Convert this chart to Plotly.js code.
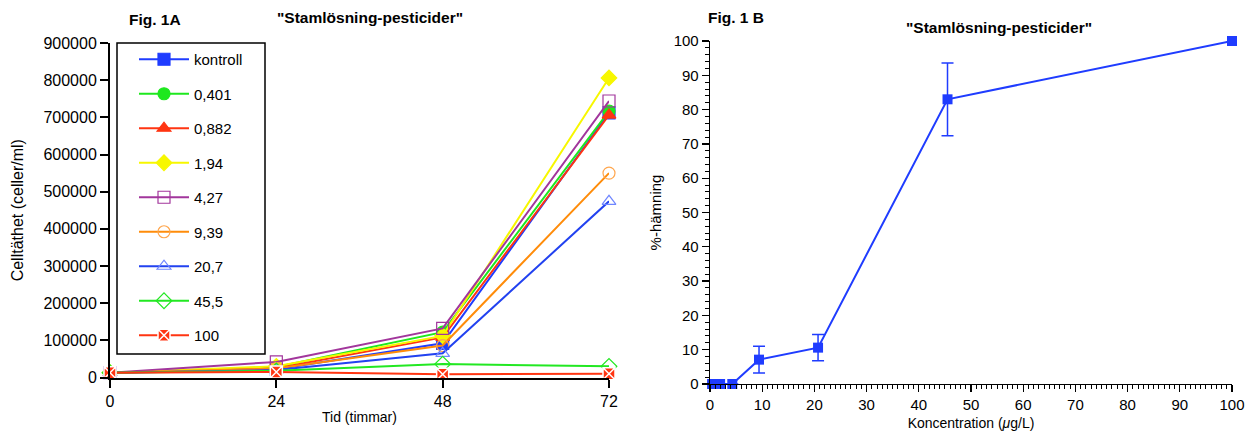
<!DOCTYPE html>
<html>
<head>
<meta charset="utf-8">
<script src="https://cdn.plot.ly/plotly-3.0.1.min.js"></script>
<style>html,body{margin:0;padding:0;background:#fff}#chart{width:1254px;height:435px}</style>
</head>
<body>
<div id="chart"></div>
<script>
// ---- Fig. 1A data ----
const timePoints = [0, 24, 48, 72];
const seriesNames = ["kontroll", "0,401", "0,882", "1,94", "4,27", "9,39", "20,7", "45,5", "100"];
const kontroll = [13000, 22000, 92000, 712000];
const c0401   = [13000, 28000, 122000, 717000];
const c0882   = [13000, 25000, 108000, 706000];
const c194    = [13000, 30000, 112000, 806000];
const c427    = [13000, 42000, 132000, 744000];
const c939    = [13000, 24000, 86000, 550000];
const c207    = [13000, 20000, 65000, 474000];
const c455    = [13000, 18000, 36000, 30000];
const c100    = [13000, 15000, 9000, 10000];

// ---- Fig. 1B data ----
const concentration = [0.401, 0.882, 1.94, 4.27, 9.39, 20.7, 45.5, 100];
const inhibition    = [0, 0, 0, 0, 7.1, 10.6, 83.0, 100];
const inhibitionErr = [0, 0, 0, 0, 3.9, 3.8, 10.6, 0.4];

const seriesValues = [kontroll, c0401, c0882, c194, c427, c939, c207, c455, c100];
const styles = [
  {line:'#1f3cff', mc:'#1f3cff', ml:'#1f3cff', sym:'square'},
  {line:'#1ee81e', mc:'#1ee81e', ml:'#1ee81e', sym:'circle'},
  {line:'#ff3512', mc:'#ff3512', ml:'#ff3512', sym:'triangle-up'},
  {line:'#f7f700', mc:'#f7f700', ml:'#f7f700', sym:'diamond'},
  {line:'#a2369c', mc:'#a2369c', ml:'#a2369c', sym:'square-open'},
  {line:'#ff8c0a', mc:'#ffa64d', ml:'#ffa64d', sym:'circle-open'},
  {line:'#2242f0', mc:'#6f86ff', ml:'#6f86ff', sym:'triangle-up-open'},
  {line:'#22e822', mc:'#22e822', ml:'#22e822', sym:'diamond-open'},
  {line:'#ff3512', mc:'#ff3512', ml:'#ffffff', sym:'square-x'}
];

const traces = seriesNames.map((name, i) => {
  const s = styles[i];
  return {
    type: 'scatter', mode: 'lines+markers', name: name,
    x: timePoints, y: seriesValues[i], xaxis: 'x', yaxis: 'y',
    legendgroup: 'g' + i, cliponaxis: false,
    line: {color: s.line, width: 2},
    marker: {symbol: s.sym, size: 12, color: s.mc,
             line: {color: s.ml, width: s.sym === 'square-x' ? 1.5 : 1.2}}
  };
});

traces.push({
  type: 'scatter', mode: 'lines+markers', name: 'B',
  x: concentration, y: inhibition, xaxis: 'x2', yaxis: 'y2',
  showlegend: false, cliponaxis: false,
  line: {color: '#1f3cff', width: 2},
  marker: {symbol: 'square', size: 10, color: '#1f3cff'},
  error_y: {type: 'data', array: inhibitionErr, visible: true, color: '#1f3cff', thickness: 1.5, width: 6}
});

const W = 1254, H = 435;
const fx = p => p / W, fy = p => (H - p) / H;
const font = 'Liberation Sans, Arial, sans-serif';

const layout = {
  width: W, height: H,
  margin: {l: 0, r: 0, t: 0, b: 0},
  paper_bgcolor: '#fff', plot_bgcolor: '#fff',
  font: {family: font, size: 15, color: '#000'},
  showlegend: true,
  legend: {
    x: fx(134), y: fy(43), xanchor: 'left', yanchor: 'top',
    bgcolor: 'rgba(0,0,0,0)', borderwidth: 0,
    font: {family: font, size: 15, color: '#000'},
    tracegroupgap: 12, itemwidth: 50, traceorder: 'grouped'
  },
  xaxis: {
    domain: [fx(110), fx(609)], range: [0, 72],
    tickvals: timePoints, ticktext: timePoints.map(String),
    ticks: 'outside', ticklen: 8, tickwidth: 2, tickcolor: '#000',
    showline: true, linewidth: 2, linecolor: '#000',
    showgrid: false, zeroline: false, anchor: 'y',
    tickfont: {size: 16},
    title: {text: 'Tid (timmar)', font: {size: 14}, standoff: 3}
  },
  yaxis: {
    domain: [fy(377.5), fy(43)], range: [0, 900000],
    dtick: 100000, tickformat: 'd',
    ticks: 'outside', ticklen: 8, tickwidth: 2, tickcolor: '#000',
    showline: true, linewidth: 2, linecolor: '#000',
    showgrid: false, zeroline: false, anchor: 'x',
    tickfont: {size: 16},
    title: {text: 'Celltäthet (celler/ml)', font: {size: 16}, standoff: 16}
  },
  xaxis2: {
    domain: [fx(710), fx(1232)], range: [0, 100],
    dtick: 10, ticks: 'outside', ticklen: 7, tickwidth: 1.3, tickcolor: '#000',
    minor: {dtick: 1, ticks: 'outside', ticklen: 4, tickwidth: 1, tickcolor: '#000'},
    showline: true, linewidth: 1.3, linecolor: '#000',
    showgrid: false, zeroline: false, anchor: 'y2',
    tickfont: {size: 15},
    title: {text: 'Koncentration (<i>μ</i>g/L)', font: {size: 14}, standoff: 6}
  },
  yaxis2: {
    domain: [fy(384), fy(41)], range: [0, 100],
    dtick: 10, ticks: 'outside', ticklen: 7, tickwidth: 1.3, tickcolor: '#000',
    minor: {dtick: 2, ticks: 'outside', ticklen: 4, tickwidth: 1, tickcolor: '#000'},
    showline: true, linewidth: 1.3, linecolor: '#000',
    showgrid: false, zeroline: false, anchor: 'x2',
    tickfont: {size: 15},
    title: {text: '%-hämning', font: {size: 15}, standoff: 8}
  },
  shapes: [
    {type: 'rect', xref: 'paper', yref: 'paper', x0: fx(117), x1: fx(265), y0: fy(354), y1: fy(43),
     line: {color: '#000', width: 1.5}, fillcolor: 'rgba(0,0,0,0)', layer: 'below'}
  ],
  annotations: [
    {text: '<b>Fig. 1A</b>', xref: 'paper', yref: 'paper', x: fx(155), y: fy(19), xanchor: 'center', yanchor: 'middle', showarrow: false, font: {size: 15.5}},
    {text: '<b>"Stamlösning-pesticider"</b>', xref: 'paper', yref: 'paper', x: fx(370), y: fy(18), xanchor: 'center', yanchor: 'middle', showarrow: false, font: {size: 15.5}},
    {text: '<b>Fig. 1 B</b>', xref: 'paper', yref: 'paper', x: fx(736), y: fy(18), xanchor: 'center', yanchor: 'middle', showarrow: false, font: {size: 15.5}},
    {text: '<b>"Stamlösning-pesticider"</b>', xref: 'paper', yref: 'paper', x: fx(999), y: fy(27), xanchor: 'center', yanchor: 'middle', showarrow: false, font: {size: 15.5}}
  ]
};

Plotly.newPlot('chart', traces, layout, {displayModeBar: false, staticPlot: true});
</script>
</body>
</html>
